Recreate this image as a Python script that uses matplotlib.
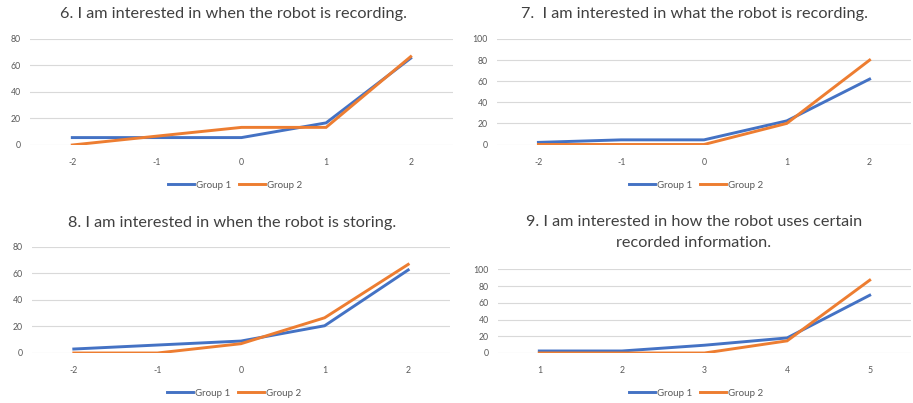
import matplotlib
matplotlib.use('Agg')
import matplotlib.pyplot as plt
import numpy as np

plt.rcParams['font.family'] = ['Lato', 'DejaVu Sans']

BLUE = '#4472C4'
ORANGE = '#ED7D31'
GRID = '#D9D9D9'
TXT = '#595959'

# likert scale answers, percentage of each group
cats_a = ['-2', '-1', '0', '1', '2']
cats_b = ['1', '2', '3', '4', '5']

q6_g1 = [5.6, 5.6, 5.6, 16.7, 65.5]
q6_g2 = [0, 6.7, 13.3, 13.3, 66.7]
q7_g1 = [2, 4.4, 4.4, 22.4, 62]
q7_g2 = [0, 0, 0, 20, 80]
q8_g1 = [3, 6, 9, 20.5, 62.5]
q8_g2 = [0, 0, 7, 26.5, 66.7]
q9_g1 = [2.4, 2.4, 9.3, 18, 69]
q9_g2 = [0, 0, 0, 14.5, 87]

titles = ['6. I am interested in when the robot is recording.',
          '7.  I am interested in what the robot is recording.',
          '8. I am interested in when the robot is storing.',
          '9. I am interested in how the robot uses certain\nrecorded information.']

W, H = 913, 403
fig = plt.figure(figsize=(W / 100, H / 100), dpi=100)


def px(x0, y0, x1, y1):
    return [x0 / W, 1 - y1 / H, (x1 - x0) / W, (y1 - y0) / H]


panels = [
    # axes box, title pos, legend pos, categories, series, y max
    (px(30, 39, 453, 145), (233, 14), (235, 185), cats_a, q6_g1, q6_g2, 80),
    (px(497, 39, 911, 144.5), (694, 14), (696, 185), cats_a, q7_g1, q7_g2, 100),
    (px(32, 246.7, 450, 353), (232, 223), (234, 393), cats_a, q8_g1, q8_g2, 80),
    (px(498, 269.3, 911, 353), (694, 232.5), (696, 393), cats_b, q9_g1, q9_g2, 100),
]

for (box, tpos, lpos, cats, g1, g2, ymax), title in zip(panels, titles):
    ax = fig.add_axes(box)
    x = np.arange(len(cats))
    ax.plot(x, g1, color=BLUE, lw=2.1, label='Group 1', solid_joinstyle='miter')
    ax.plot(x, g2, color=ORANGE, lw=2.1, label='Group 2', solid_joinstyle='miter')
    ax.set_xlim(-0.5, len(cats) - 0.5)
    ax.set_ylim(0, ymax)
    ax.set_yticks(np.arange(0, ymax + 1, 20))
    ax.set_xticks(x)
    ax.set_xticklabels(cats)
    ax.grid(axis='y', color=GRID, lw=0.8)
    ax.set_axisbelow(True)
    for s in ax.spines.values():
        s.set_visible(False)
    ax.tick_params(length=0, labelsize=6.3, labelcolor=TXT)
    ax.tick_params(axis='x', pad=9.5)
    ax.tick_params(axis='y', pad=6.5)
    fig.text(tpos[0] / W, 1 - tpos[1] / H, title, ha='center', va='center',
             fontsize=11.7, color='#404040', linespacing=1.62)
    ax.legend(loc='center', bbox_to_anchor=(lpos[0] / W, 1 - lpos[1] / H),
              bbox_transform=fig.transFigure, ncol=2, frameon=False,
              fontsize=7, handlelength=2.7, handletextpad=0.15,
              columnspacing=0.8, labelcolor=TXT)

fig.savefig('out.png', dpi=100)
